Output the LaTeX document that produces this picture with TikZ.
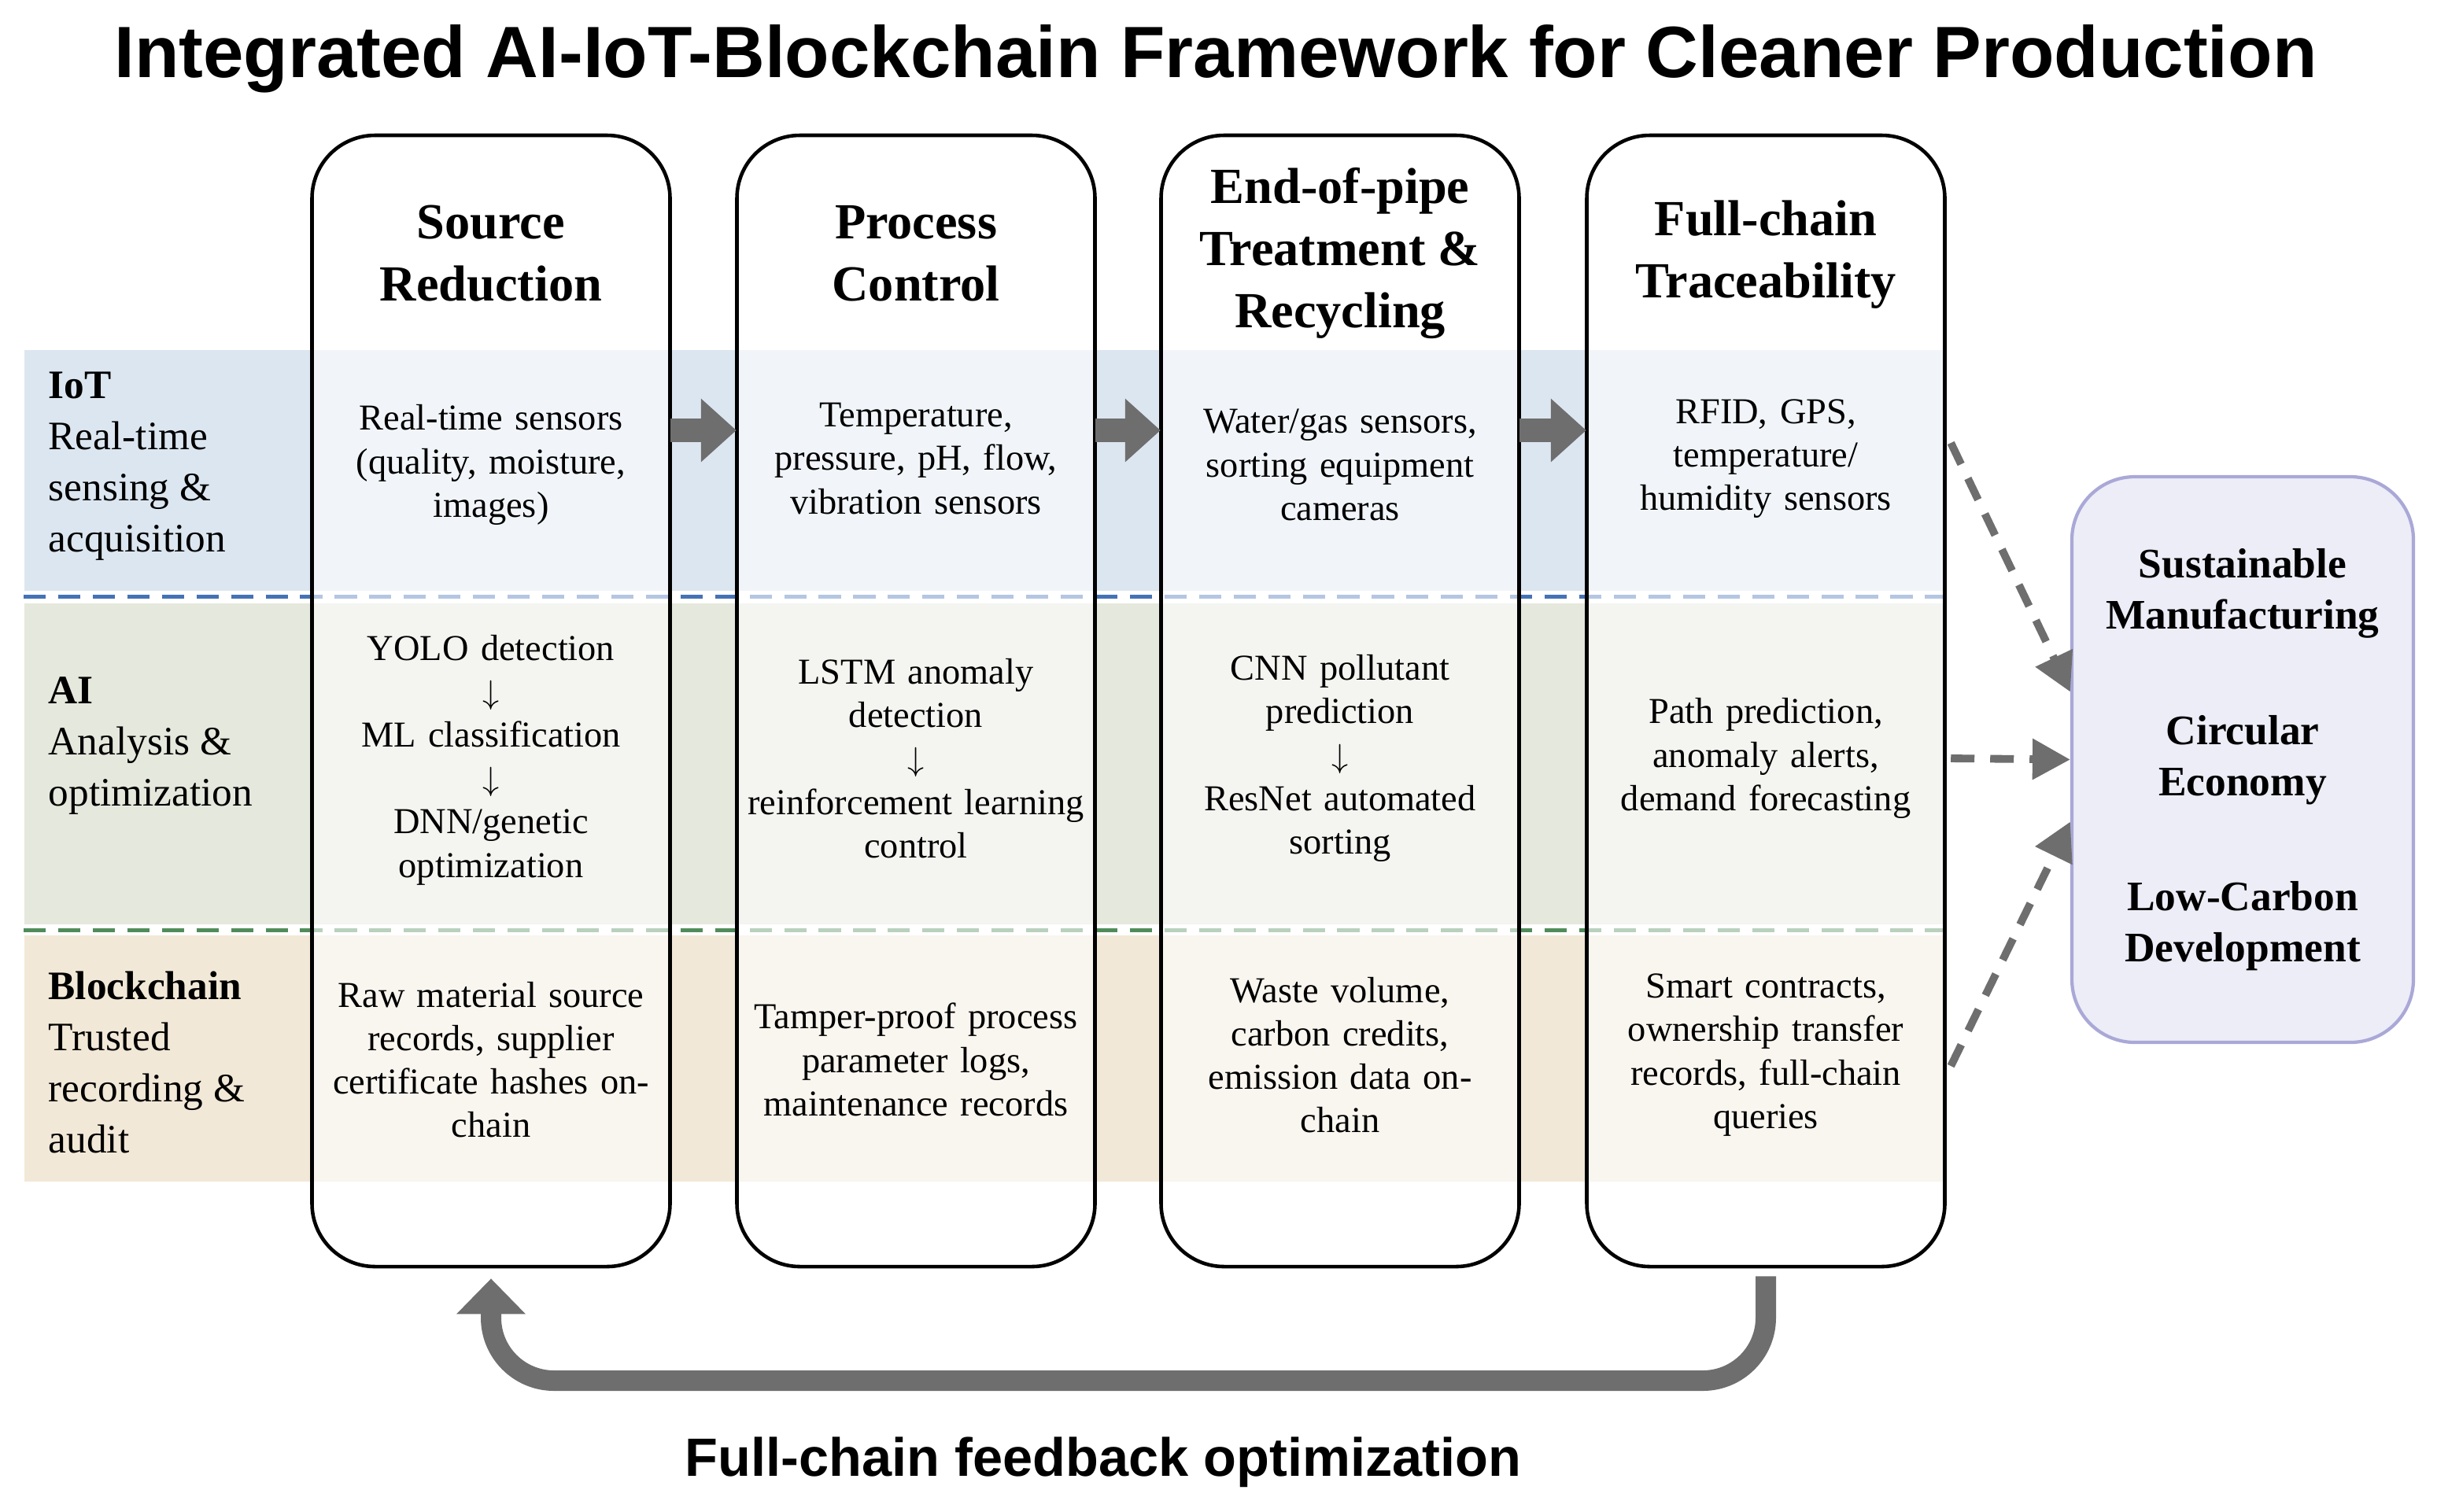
\documentclass[tikz,border=0pt]{standalone}
\usepackage{fontspec}
\setmainfont{Liberation Serif}
\newfontfamily\sansfont{Liberation Sans}
\usetikzlibrary{arrows.meta}

\definecolor{iotcol}{RGB}{220,230,240}
\definecolor{aicol}{RGB}{229,232,220}
\definecolor{bccol}{RGB}{242,232,215}
\definecolor{iotdash}{RGB}{68,114,180}
\definecolor{aidash}{RGB}{80,140,90}
\definecolor{arrowgray}{RGB}{110,110,110}
\definecolor{goalfill}{RGB}{236,237,247}
\definecolor{goaldraw}{RGB}{170,168,215}

\tikzset{
	band/.style={rectangle, inner sep=0pt, anchor=north west, minimum width=24.41cm},
	sepline/.style={line width=1.4pt, dash pattern=on 8pt off 4.5pt},
	stage/.style={rectangle, draw, line width=1.3pt, rounded corners=0.8cm, fill=white, fill opacity=0.6, minimum width=4.55cm, minimum height=14.38cm},
	stagehead/.style={align=center, font=\bfseries\fontsize{18.3}{22.5}\selectfont},
	cell/.style={align=center, text width=4.55cm, inner sep=0pt, font=\fontsize{13.2}{15.7}\selectfont},
	layer/.style={align=left, anchor=west, inner sep=0pt, font=\fontsize{14.6}{18.5}\selectfont},
	flow/.style={arrowgray, line width=0.3cm, -{Triangle[width=0.78cm, length=0.45cm]}},
	feedback/.style={arrowgray, line width=0.26cm, rounded corners=0.8cm, -{Triangle[width=0.85cm, length=0.45cm]}},
	goalarrow/.style={arrowgray, line width=2.8pt, dash pattern=on 0.3cm off 0.2cm, -{Triangle[width=0.5cm, length=0.48cm]}},
	goal/.style={rectangle, draw=goaldraw, line width=1.2pt, fill=goalfill, rounded corners=0.8cm, minimum width=4.34cm, minimum height=7.19cm},
	goaltext/.style={align=center, font=\bfseries\fontsize{15.2}{18.5}\selectfont}
}

\begin{document}
\begin{tikzpicture}
		\useasboundingbox (0,0) rectangle (30.97,-19.21);
		
		%Title
		\node (title) at (15.45,-0.75) [font=\sansfont\bfseries\fontsize{26.3}{30}\selectfont]{Integrated AI-IoT-Blockchain Framework for Cleaner Production};
		
		%Layer bands
		\node (iotband) at (0.30,-4.44) [band, fill=iotcol, minimum height=3.06cm]{};
		\node (aiband) at (0.30,-7.66) [band, fill=aicol, minimum height=4.08cm]{};
		\node (bcband) at (0.30,-11.88) [band, fill=bccol, minimum height=3.13cm]{};
		
		\draw[sepline, iotdash] ([yshift=-0.07cm]iotband.south west) -- ([yshift=-0.07cm]iotband.south east);
		\draw[sepline, aidash] ([yshift=-0.07cm]aiband.south west) -- ([yshift=-0.07cm]aiband.south east);
		
		%Layer labels
		\node (iotlabel) at (0.61,-5.93) [layer]{\textbf{IoT}\\Real-time\\sensing \&\\acquisition};
		\node (ailabel) at (0.61,-9.48) [layer]{\textbf{AI}\\Analysis \&\\optimization};
		\node (bclabel) at (0.61,-13.50) [layer]{\textbf{Blockchain}\\Trusted\\recording \&\\audit};
		
		%Stages
		\node (source) at (6.24,-8.91) [stage]{};
		\node (process) at (11.64,-8.91) [stage]{};
		\node (endpipe) at (17.03,-8.91) [stage]{};
		\node (trace) at (22.44,-8.91) [stage]{};
		
		\node (sourcehead) at (6.24,-3.22) [stagehead]{Source\\Reduction};
		\node (processhead) at (11.64,-3.22) [stagehead]{Process\\Control};
		\node (endpipehead) at (17.03,-3.22) [stagehead]{End-of-pipe\\Treatment \&\\Recycling};
		\node (tracehead) at (22.44,-3.24) [stagehead]{Full-chain\\Traceability};
		
		%IoT row
		\node (iotsource) at (6.24,-5.91) [cell]{Real-time sensors\\(quality, moisture,\\images)};
		\node (iotprocess) at (11.64,-5.83) [cell]{Temperature,\\pressure, pH, flow,\\vibration sensors};
		\node (iotendpipe) at (17.03,-5.91) [cell]{Water/gas sensors,\\sorting equipment\\cameras};
		\node (iottrace) at (22.44,-5.83) [cell]{RFID, GPS,\\temperature/\\humidity sensors};
		
		%AI row
		\node (aisource) at (6.24,-9.66) [cell]{YOLO detection\\$\downarrow$\\ML classification\\$\downarrow$\\DNN/genetic\\optimization};
		\node (aiprocess) at (11.64,-9.64) [cell]{LSTM anomaly\\detection\\$\downarrow$\\reinforcement learning\\control};
		\node (aiendpipe) at (17.03,-9.64) [cell]{CNN pollutant\\prediction\\$\downarrow$\\ResNet automated\\sorting};
		\node (aitrace) at (22.44,-9.64) [cell]{Path prediction,\\anomaly alerts,\\demand forecasting};
		
		%Blockchain row
		\node (bcsource) at (6.24,-13.47) [cell]{Raw material source\\records, supplier\\certificate hashes on-\\chain};
		\node (bcprocess) at (11.64,-13.47) [cell]{Tamper-proof process\\parameter logs,\\maintenance records};
		\node (bcendpipe) at (17.03,-13.41) [cell]{Waste volume,\\carbon credits,\\emission data on-\\chain};
		\node (bctrace) at (22.44,-13.41) [cell]{Smart contracts,\\ownership transfer\\records, full-chain\\queries};
		
		%Stage flow
		\draw[flow] ([yshift=0.44cm]iotsource.east) -- ([yshift=0.36cm]iotprocess.west);
		\draw[flow] ([yshift=0.36cm]iotprocess.east) -- ([yshift=0.44cm]iotendpipe.west);
		\draw[flow] ([yshift=0.44cm]iotendpipe.east) -- ([yshift=0.36cm]iottrace.west);
		
		%Goals
		\node (goal) at (28.50,-9.655) [goal]{};
		\node (goalsm) at (28.50,-7.54) [goaltext]{Sustainable\\Manufacturing};
		\node (goalce) at (28.50,-9.66) [goaltext]{Circular\\Economy};
		\node (goallc) at (28.50,-11.77) [goaltext]{Low-Carbon\\Development};
		
		\draw[goalarrow] ([shift={(0.07,0.2)}]iottrace.east) -- ([yshift=0.86cm]goal.west);
		\draw[goalarrow] ([xshift=0.07cm]aitrace.east) -- (goal.west);
		\draw[goalarrow] ([shift={(0.07,-0.14)}]bctrace.east) -- ([yshift=-0.79cm]goal.west);
		
		%Feedback loop
		\coordinate (fbturn) at (0,-17.55);
		\draw[feedback] ([yshift=-0.1cm]trace.south) -- (trace.south |- fbturn) -- (source.south |- fbturn) -- ([yshift=-0.13cm]source.south);
		
		\node (fblabel) at (14.02,-18.59) [font=\sansfont\bfseries\fontsize{19.5}{23}\selectfont]{Full-chain feedback optimization};
		
\end{tikzpicture}
\end{document}
